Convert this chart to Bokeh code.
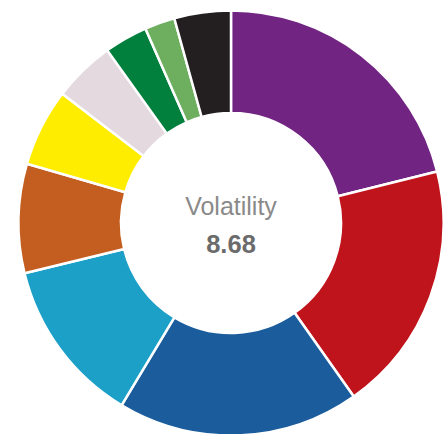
import math
from bokeh.plotting import figure
from bokeh.models import Range1d, ColumnDataSource
from bokeh.core.properties import value
from bokeh.embed import file_html
from bokeh.resources import INLINE

segments = ["Purple", "Red", "Dark blue", "Light blue", "Orange", "Yellow",
            "Light pink", "Dark green", "Light green", "Black"]
shares = [21.1, 19.1, 18.4, 12.6, 8.3, 5.9, 4.7, 3.3, 2.3, 4.3]
colors = ["#722483", "#C0141C", "#1A5C9C", "#1CA0C8", "#C45E20", "#FFED00",
          "#E3D9DE", "#007F3D", "#6DAE5F", "#231F20"]
title_label = "Volatility"
title_value = "8.68"

W, H = 447, 434
cx, cy = 230.5, H - 222.5
r_out, r_in = 212.5, 110

total = sum(shares)
starts, ends = [], []
acc = 0.0
for s in shares:
    starts.append(math.pi / 2 - 2 * math.pi * acc / total)
    acc += s
    ends.append(math.pi / 2 - 2 * math.pi * acc / total)

src = ColumnDataSource(dict(name=segments, share=shares, color=colors,
                            start=starts, end=ends,
                            x=[cx] * len(shares), y=[cy] * len(shares)))

p = figure(width=W, height=H, x_range=Range1d(0, W), y_range=Range1d(0, H),
           output_backend="svg", toolbar_location=None, min_border=0)
p.axis.visible = False
p.grid.visible = False
p.outline_line_color = None
p.background_fill_color = "white"
p.border_fill_color = "white"

p.annular_wedge(x="x", y="y", inner_radius=r_in, outer_radius=r_out,
                start_angle="start", end_angle="end", direction="clock",
                fill_color="color", line_color="white", line_width=2.5,
                source=src)

p.text(x=[cx], y=[H - 205], text=[title_label], text_align="center",
       text_baseline="alphabetic", text_font=value("Liberation Sans"),
       text_font_size="25px", text_color="#8a8a8a")
p.text(x=[cx], y=[H - 243], text=[title_value], text_align="center",
       text_baseline="alphabetic", text_font=value("Liberation Sans"),
       text_font_size="25.5px", text_font_style="bold", text_color="#6b6b6b")

open("out.html", "w").write(file_html(p, INLINE))
